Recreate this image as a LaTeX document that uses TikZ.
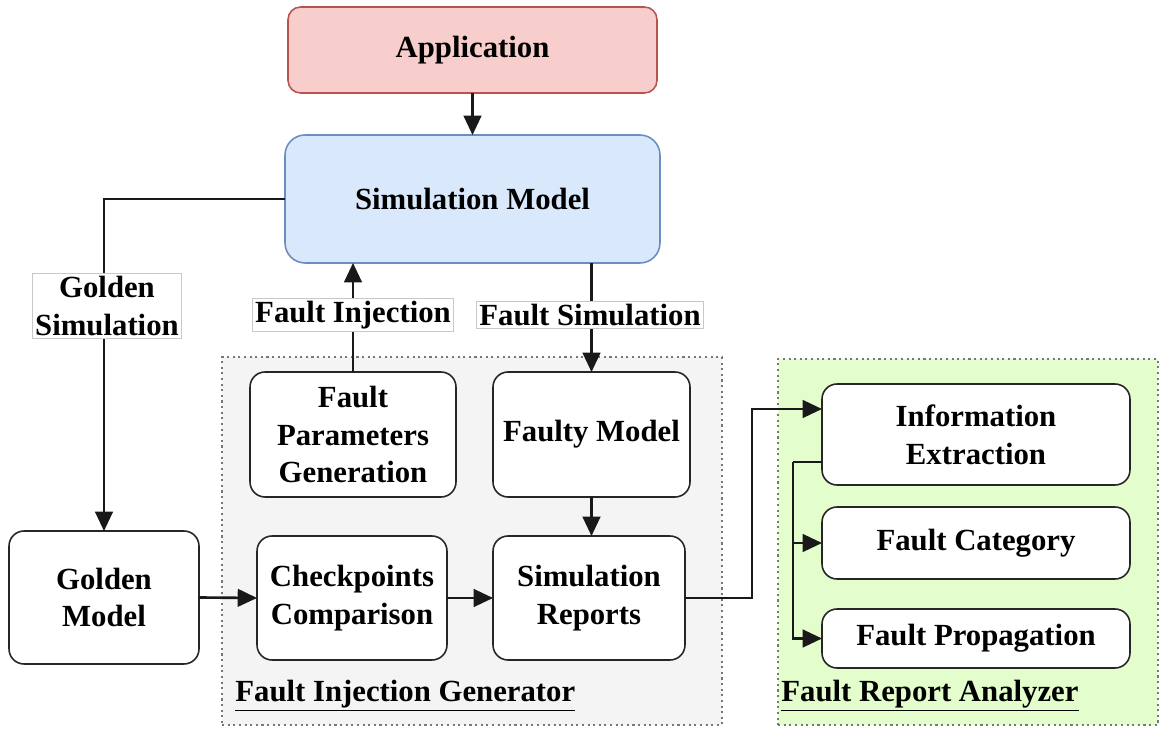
\documentclass[tikz,border=0pt]{standalone}
\usepackage{fontspec}
\setmainfont{Liberation Serif}
\usetikzlibrary{arrows.meta,calc}
\definecolor{appfill}{HTML}{F8CECC}
\definecolor{appline}{HTML}{B85450}
\definecolor{simfill}{HTML}{DAE8FC}
\definecolor{simline}{HTML}{6C8EBF}
\definecolor{genfill}{HTML}{F4F4F4}
\definecolor{anafill}{HTML}{E3FDCC}
\definecolor{grpline}{HTML}{777777}
\definecolor{lblline}{HTML}{C8C8C8}
\tikzset{
  txt/.style={font=\bfseries\fontsize{17.5}{21.5}\selectfont, align=center},
  box/.style={txt, draw=black!85, line width=0.9pt, fill=white, rounded corners=0.3cm, inner sep=0pt, outer sep=0pt},
  grp/.style={draw=grpline, line width=1.2pt, dotted, inner sep=0pt, outer sep=0pt},
  lbl/.style={txt, draw=lblline, line width=0.5pt, fill=white, inner sep=1.5pt},
  grpcap/.style={txt, anchor=west, inner sep=0pt},
  wire/.style={line width=1.5pt, black!90},
  arr/.style={wire, -{Triangle[length=11pt,width=10pt]}}
}
\begin{document}
\begin{tikzpicture}[x=0.02cm,y=-0.02cm]
\useasboundingbox (0,0) rectangle (1160,729);

% group containers (sizes in px of 0.02cm)
\node[grp, fill=genfill, minimum width=10cm, minimum height=7.36cm] (gen) at (472,541) {};
\node[grp, fill=anafill, minimum width=7.6cm, minimum height=7.32cm] (ana) at (968,542) {};

% top of the flow
\node[box, fill=appfill, draw=appline, minimum width=7.38cm, minimum height=1.72cm, rounded corners=0.25cm] (app) at (472.5,50) {Application};
\node[box, fill=simfill, draw=simline, minimum width=7.5cm, minimum height=2.56cm, rounded corners=0.4cm] (sim) at (472.5,199) {Simulation Model};

% fault injection generator
\node[box, minimum width=4.12cm, minimum height=2.5cm] (fpg) at (353,434.5) {Fault\\Parameters\\Generation};
\node[box, minimum width=3.94cm, minimum height=2.5cm] (fm) at (591.5,434.5) {Faulty Model};
\node[box, minimum width=3.8cm, minimum height=2.48cm] (cc) at (352,598) {Checkpoints\\Comparison};
\node[box, minimum width=3.84cm, minimum height=2.48cm] (sr) at (589,598) {Simulation\\Reports};
\node[box, minimum width=3.8cm, minimum height=2.66cm] (gm) at (104,597.5) {Golden\\Model};

% fault report analyzer
\node[box, minimum width=6.16cm, minimum height=2.02cm] (ie) at (976,434.5) {Information\\Extraction};
\node[box, minimum width=6.16cm, minimum height=1.44cm] (fc) at (976,543) {Fault Category};
\node[box, minimum width=6.16cm, minimum height=1.18cm] (fp) at (976,638.5) {Fault Propagation};

% connectors
\draw[arr] (app) -- (sim);
\draw[arr] (sim.west) -| (gm.north);
\draw[arr] (fpg.north) -- (fpg.north |- sim.south);
\draw[arr] (fm.north |- sim.south) -- (fm.north);
\draw[arr] (fm.south) -- (fm.south |- sr.north);
\draw[arr] (gm.east) -- (cc.west);
\draw[arr] (cc.east) -- (sr.west);

\coordinate (up) at (752,409);
\draw[arr] (sr.east) -| (up) -- (up -| ie.west);

\coordinate (dn) at (793,462);
\draw[wire] (dn -| ie.west) -- (dn);
\draw[arr] (dn) |- (fp.west);
\draw[arr] (dn |- fc.west) -- (fc.west);

% connector labels
\node[lbl] (lgs) at (107,306) {Golden\\Simulation};
\node[lbl] (lfi) at (353,315) {Fault Injection};
\node[lbl] (lfs) at (590,315) {Fault Simulation};

% group captions
\node[grpcap] (cgen) at (235,696) {\underline{Fault Injection Generator}};
\node[grpcap] (cana) at (781,696) {\underline{Fault Report Analyzer}};
\end{tikzpicture}
\end{document}
